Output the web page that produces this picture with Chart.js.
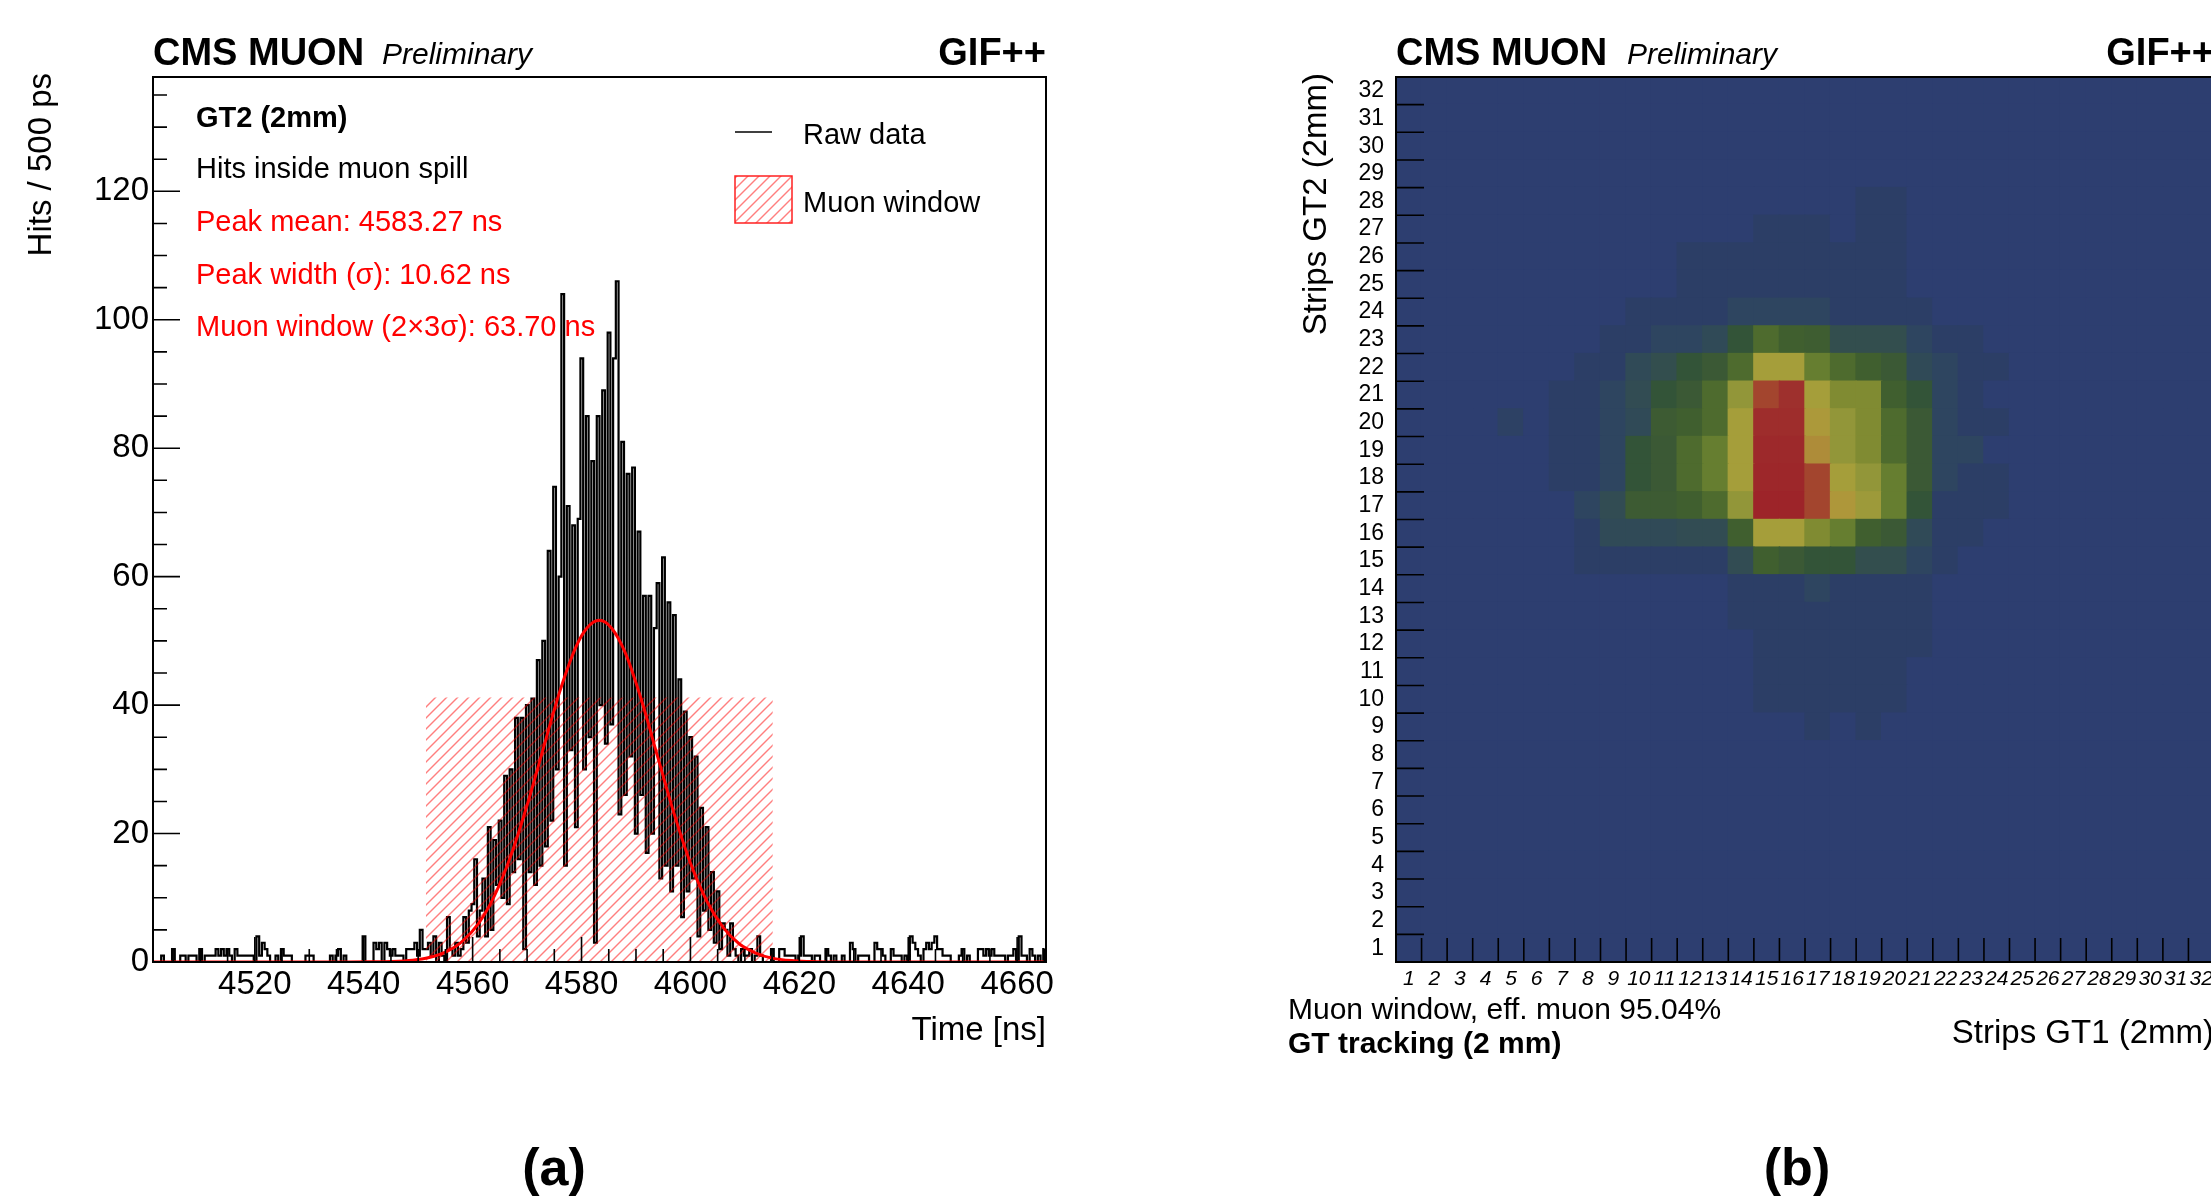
<!DOCTYPE html>
<html>
<head>
<meta charset="utf-8">
<script src="https://cdn.jsdelivr.net/npm/chart.js@4.4.1/dist/chart.umd.min.js"></script>
<style>
  html, body { margin: 0; padding: 0; background: #fff; overflow: hidden; }
  body { width: 2211px; height: 1197px; position: relative; }
  #wrapA { position: absolute; left: 0; top: 0; width: 1100px; height: 1197px; }
  #wrapB { position: absolute; left: 1105px; top: 0; width: 1125px; height: 1197px; }
</style>
</head>
<body>
<div id="wrapA"><canvas id="timeHist" width="1100" height="1197"></canvas></div>
<div id="wrapB"><canvas id="stripMap" width="1125" height="1197"></canvas></div>
<script>
const FONT = '"Liberation Sans", Arial, Helvetica, sans-serif';
Chart.defaults.color = '#000';
Chart.defaults.font.family = FONT;

// ---- (a) time histogram, 0.5 ns bins starting at 4501.3 ns
const binStart = 4501.3;
const binWidth = 0.5;
const hits = [
  0,0,0,1,0,0,0,2,0,0,  1,1,0,1,1,1,0,2,0,1,
  1,1,1,2,1,2,1,2,1,0,  2,1,1,1,1,1,1,0,4,1,
  3,2,1,0,0,1,0,2,1,1,  1,0,0,0,0,0,1,1,1,0,
  0,0,0,0,0,1,0,1,2,0,  1,0,0,0,0,0,0,4,0,0,
  0,3,2,3,0,3,2,1,2,1,  1,1,0,2,2,2,3,1,5,2,
  2,3,1,4,0,3,1,0,7,2,  1,3,1,2,7,3,8,9,16,4,
  8,13,4,21,5,19,12,22,10,29,  9,30,14,38,16,38,2,40,14,41,
  12,47,15,50,18,64,22,74,30,60,  104,15,71,33,68,21,69,94,30,85,
  35,78,3,85,40,89,34,98,37,94,  106,23,81,26,76,32,77,20,67,26,
  57,17,57,20,52,59,13,63,15,56,  11,54,15,44,7,39,11,35,13,32,
  4,24,8,21,5,14,3,11,2,6,  5,1,6,2,1,0,2,1,1,2,
  0,1,4,1,0,0,0,2,0,0,  2,2,1,1,1,1,0,1,4,1,
  1,1,0,1,1,0,0,2,1,0,  1,0,0,1,0,0,3,2,0,1,
  1,1,1,0,0,3,2,2,1,0,  0,2,1,1,1,0,1,0,4,3,
  2,1,0,2,3,2,3,4,2,2,  1,1,1,0,0,0,1,2,0,1,
  0,0,0,2,2,1,2,1,2,1,  1,1,1,0,1,1,2,0,4,1,
  1,0,2,1,0,1,0,2
];

// Gaussian fit curve
const fitTimes  = [4501.3, 4537, 4541, 4545, 4549, 4552, 4555, 4558, 4561, 4564, 4567, 4570, 4573, 4576, 4579, 4581, 4583.27, 4585.5, 4588, 4591, 4594, 4597, 4600, 4603, 4606, 4609, 4612, 4615, 4619, 4623, 4628, 4665.3];
const fitValues = [0, 0, 0.02, 0.08, 0.29, 0.70, 1.54, 3.14, 5.90, 10.3, 16.5, 24.4, 33.3, 42.1, 49.1, 52.0, 53.2, 52.0, 48.2, 40.8, 31.9, 23.1, 15.4, 9.5, 5.4, 2.8, 1.4, 0.6, 0.19, 0.05, 0, 0];

// muon window (mean +- 3 sigma) and its drawn height
const windowRange = [4551.41, 4615.13];
const windowTop = 41.2;

const fitInfo = ['GT2 (2mm)', 'Hits inside muon spill', 'Peak mean: 4583.27 ns', 'Peak width (\u03c3): 10.62 ns', 'Muon window (2\u00d73\u03c3): 63.70 ns'];

// ---- (b) strip correlation map, rows from strip 32 (top) down to strip 1
const stripLabels = ['1','2','3','4','5','6','7','8','9','10','11','12','13','14','15','16','17','18','19','20','21','22','23','24','25','26','27','28','29','30','31','32'];
const stripMap = [
  [0,0,0,0,0,0,0,0,0,0, 0,0,0,0,0,0,0,0,0,0, 0,0,0,0,0,0,0,0,0,0, 0,0],
  [0,0,0,0,0,0,0,0,0,0, 0,0,0,0,0,0,0,0,0,0, 0,0,0,0,0,0,0,0,0,0, 0,0],
  [0,0,0,0,0,0,0,0,0,0, 0,0,0,0,0,0,0,0,0,0, 0,0,0,0,0,0,0,0,0,0, 0,0],
  [0,0,0,0,0,0,0,0,0,0, 0,0,0,0,0,0,0,0,0,0, 0,0,0,0,0,0,0,0,0,0, 0,0],
  [0,0,0,0,0,0,0,0,0,0, 0,0,0,0,0,0,0,0,3,3, 0,0,0,0,0,0,0,0,0,0, 0,0],
  [0,0,0,0,0,0,0,0,0,0, 0,0,0,0,3,3,3,0,3,3, 0,0,0,0,0,0,0,0,0,0, 0,0],
  [0,0,0,0,0,0,0,0,0,0, 0,3,3,3,3,3,3,3,3,3, 0,0,0,0,0,0,0,0,0,0, 0,0],
  [0,0,0,0,0,0,0,0,0,0, 0,3,3,3,3,3,3,3,3,3, 0,0,0,0,0,0,0,0,0,0, 0,0],
  [0,0,0,0,0,0,0,0,0,3, 3,3,3,8,8,8,8,3,3,3, 3,0,0,0,0,0,0,0,0,0, 0,0],
  [0,0,0,0,0,0,0,0,3,3, 8,8,12,24,40,33,31,16,16,16, 8,3,3,0,0,0,0,0,0,0, 0,0],
  [0,0,0,0,0,0,0,3,3,12, 16,24,28,40,72,72,48,40,33,28, 12,8,3,3,0,0,0,0,0,0, 0,0],
  [0,0,0,0,0,0,3,3,8,14, 24,28,40,63,86,92,72,56,56,33, 24,8,3,0,0,0,0,0,0,0, 0,0],
  [0,0,0,0,5,0,3,3,8,12, 30,33,40,72,94,94,76,63,56,40, 28,8,3,3,0,0,0,0,0,0, 0,0],
  [0,0,0,0,0,0,3,3,8,24, 28,40,48,72,97,97,79,63,56,40, 28,8,8,0,0,0,0,0,0,0, 0,0],
  [0,0,0,0,0,0,3,3,8,24, 28,40,48,72,98,98,86,72,63,48, 28,8,3,3,0,0,0,0,0,0, 0,0],
  [0,0,0,0,0,0,0,8,14,30, 30,33,40,63,100,100,86,77,67,48, 24,3,3,3,0,0,0,0,0,0, 0,0],
  [0,0,0,0,0,0,0,3,12,12, 12,14,14,33,72,72,56,48,33,28, 12,3,3,0,0,0,0,0,0,0, 0,0],
  [0,0,0,0,0,0,0,3,3,3, 3,3,3,14,33,28,24,24,16,16, 8,3,0,0,0,0,0,0,0,0, 0,0],
  [0,0,0,0,0,0,0,0,0,0, 0,0,0,3,3,3,8,3,3,3, 3,0,0,0,0,0,0,0,0,0, 0,0],
  [0,0,0,0,0,0,0,0,0,0, 0,0,0,3,3,3,3,3,3,3, 3,0,0,0,0,0,0,0,0,0, 0,0],
  [0,0,0,0,0,0,0,0,0,0, 0,0,0,0,3,3,3,3,3,3, 3,0,0,0,0,0,0,0,0,0, 0,0],
  [0,0,0,0,0,0,0,0,0,0, 0,0,0,0,3,3,3,3,3,3, 0,0,0,0,0,0,0,0,0,0, 0,0],
  [0,0,0,0,0,0,0,0,0,0, 0,0,0,0,3,3,3,3,3,3, 0,0,0,0,0,0,0,0,0,0, 0,0],
  [0,0,0,0,0,0,0,0,0,0, 0,0,0,0,0,0,3,0,3,0, 0,0,0,0,0,0,0,0,0,0, 0,0],
  [0,0,0,0,0,0,0,0,0,0, 0,0,0,0,0,0,0,0,0,0, 0,0,0,0,0,0,0,0,0,0, 0,0],
  [0,0,0,0,0,0,0,0,0,0, 0,0,0,0,0,0,0,0,0,0, 0,0,0,0,0,0,0,0,0,0, 0,0],
  [0,0,0,0,0,0,0,0,0,0, 0,0,0,0,0,0,0,0,0,0, 0,0,0,0,0,0,0,0,0,0, 0,0],
  [0,0,0,0,0,0,0,0,0,0, 0,0,0,0,0,0,0,0,0,0, 0,0,0,0,0,0,0,0,0,0, 0,0],
  [0,0,0,0,0,0,0,0,0,0, 0,0,0,0,0,0,0,0,0,0, 0,0,0,0,0,0,0,0,0,0, 0,0],
  [0,0,0,0,0,0,0,0,0,0, 0,0,0,0,0,0,0,0,0,0, 0,0,0,0,0,0,0,0,0,0, 0,0],
  [0,0,0,0,0,0,0,0,0,0, 0,0,0,0,0,0,0,0,0,0, 0,0,0,0,0,0,0,0,0,0, 0,0],
  [0,0,0,0,0,0,0,0,0,0, 0,0,0,0,0,0,0,0,0,0, 0,0,0,0,0,0,0,0,0,0, 0,0]
];

// colour scale of the map (value -> colour)
const paletteStops  = [0, 3, 8, 12, 16, 24, 28, 33, 40, 48, 56, 63, 67, 72, 78, 86, 92, 100];
const paletteColors = ['#2d3e70','#2c3e66','#2e4560','#304a57','#334e4e','#335438','#3b5935','#405f2f','#4e6b2e','#667e30','#808b32','#929639','#9d9a3a','#a59e3a','#b0963a','#a3452e','#9e302d','#9d2429'];


function hexRgb(h){
	return [parseInt(h.slice(1,3),16), parseInt(h.slice(3,5),16), parseInt(h.slice(5,7),16)];
}

function colorFor(z){
	for (let i = 0; i < paletteStops.length - 1; i++) {
		if (z <= paletteStops[i+1]) {
			const f = (z - paletteStops[i]) / (paletteStops[i+1] - paletteStops[i]);
			const a = hexRgb(paletteColors[i]);
			const b = hexRgb(paletteColors[i+1]);
			return 'rgb(' + a.map((c, k) => Math.round(c + (b[k] - c) * f)).join(',') + ')';
		}
	}
	return paletteColors[paletteColors.length - 1];
}

function hatch(ctx){
	const tile = document.createElement('canvas');
	tile.width = 11;
	tile.height = 11;
	const t = tile.getContext('2d');
	t.strokeStyle = 'rgba(255,0,0,0.5)';
	t.lineWidth = 1.4;
	[-11, 0, 11].forEach(o => {
		t.beginPath();
		t.moveTo(o - 1, 12);
		t.lineTo(o + 12, -1);
		t.stroke();
	});
	return ctx.createPattern(tile, 'repeat');
}

function text(ctx, str, x, y, font, color, align){
	ctx.font = font;
	ctx.fillStyle = color || '#000';
	ctx.textAlign = align || 'left';
	ctx.textBaseline = 'alphabetic';
	ctx.fillText(str, x, y);
}

function vtext(ctx, str, x, y, font){
	ctx.save();
	ctx.translate(x, y);
	ctx.rotate(-Math.PI / 2);
	text(ctx, str, 0, 0, font, '#000', 'right');
	ctx.restore();
}

// ---- (a)
const ctxA = document.getElementById('timeHist').getContext('2d');
const hatchFill = hatch(ctxA);

const histDecor = {
	id: 'histDecor',
	afterDraw(chart){
		const {ctx, chartArea: a, scales: {x, y}} = chart;
		ctx.save();
		ctx.strokeStyle = '#000';
		ctx.lineWidth = 1.6;
		ctx.beginPath();
		for (let v = Math.ceil(x.min / 5) * 5; v <= x.max; v += 5) {
			const px = x.getPixelForValue(v);
			ctx.moveTo(px, a.bottom);
			ctx.lineTo(px, a.bottom - (v % 20 === 0 ? 25 : 13));
		}
		for (let v = 0; v <= y.max; v += 5) {
			const py = y.getPixelForValue(v);
			ctx.moveTo(a.left, py);
			ctx.lineTo(a.left + (v % 20 === 0 ? 27 : 14), py);
		}
		ctx.stroke();
		ctx.lineWidth = 2;
		ctx.strokeRect(a.left, a.top, a.right - a.left, a.bottom - a.top);

		// titles
		text(ctx, 'CMS MUON', a.left, 65, 'bold 38px ' + FONT);
		text(ctx, 'Preliminary', a.left + 229, 64, 'italic 30px ' + FONT);
		text(ctx, 'GIF++', a.right, 65, 'bold 38px ' + FONT, '#000', 'right');
		vtext(ctx, 'Hits / 500 ps', 51, 73, '33px ' + FONT);
		text(ctx, 'Time [ns]', a.right, 1040, '33px ' + FONT, '#000', 'right');

		// fit summary
		text(ctx, fitInfo[0], a.left + 43, 127, 'bold 29px ' + FONT);
		text(ctx, fitInfo[1], a.left + 43, 178, '29px ' + FONT);
		text(ctx, fitInfo[2], a.left + 43, 231, '29px ' + FONT, '#ff0000');
		text(ctx, fitInfo[3], a.left + 43, 284, '29px ' + FONT, '#ff0000');
		text(ctx, fitInfo[4], a.left + 43, 336, '29px ' + FONT, '#ff0000');

		// legend
		ctx.strokeStyle = '#000';
		ctx.lineWidth = 1.5;
		ctx.beginPath();
		ctx.moveTo(a.left + 582, 132);
		ctx.lineTo(a.left + 619, 132);
		ctx.stroke();
		text(ctx, 'Raw data', a.left + 650, 144, '29px ' + FONT);
		ctx.fillStyle = hatchFill;
		ctx.fillRect(a.left + 582, 176, 57, 47);
		ctx.strokeStyle = '#ff2020';
		ctx.lineWidth = 1.5;
		ctx.strokeRect(a.left + 582, 176, 57, 47);
		text(ctx, 'Muon window', a.left + 650, 212, '29px ' + FONT);

		text(ctx, '(a)', 554, 1185, 'bold 52px ' + FONT, '#000', 'center');
		ctx.restore();
	}
};

new Chart(ctxA, {
	type: 'line',
	data: {
		datasets: [
			{
				label: 'Raw data',
				data: hits.map((v, i) => ({x: binStart + binWidth * (i + 0.5), y: v})),
				stepped: 'middle',
				borderColor: '#000',
				borderWidth: 2.2,
				pointRadius: 0,
				order: 3,
			},
			{
				label: 'Muon window',
				data: windowRange.map(t => ({x: t, y: windowTop})),
				borderWidth: 0,
				borderColor: 'rgba(0,0,0,0)',
				backgroundColor: hatchFill,
				fill: 'origin',
				pointRadius: 0,
				order: 2,
			},
			{
				label: 'Fit',
				data: fitTimes.map((t, i) => ({x: t, y: fitValues[i]})),
				borderColor: '#ff0000',
				borderWidth: 3,
				cubicInterpolationMode: 'monotone',
				pointRadius: 0,
				order: 1,
			}
		]
	},
	options: {
		responsive: false,
		animation: false,
		layout: { padding: { left: 0, top: 77, right: 54, bottom: 175 } },
		plugins: { legend: { display: false }, tooltip: { enabled: false } },
		scales: {
			x: {
				type: 'linear',
				min: 4501.3,
				max: 4665.3,
				grid: { display: false, drawTicks: false },
				border: { display: false },
				ticks: {
					stepSize: 20,
					autoSkip: false,
					includeBounds: false,
					maxRotation: 0,
					padding: 3,
					font: { size: 33 },
					callback: v => v % 20 === 0 ? String(v) : '',
				},
				afterFit: s => { s.height = 60; },
			},
			y: {
				min: 0,
				max: 137.8,
				grid: { display: false, drawTicks: false },
				border: { display: false },
				ticks: {
					stepSize: 20,
					includeBounds: false,
					padding: 4,
					font: { size: 33 },
					callback: v => v % 20 === 0 ? String(v) : '',
				},
				afterFit: s => { s.width = 153; },
			}
		}
	},
	plugins: [histDecor]
});

// ---- (b)
const mapDecor = {
	id: 'mapDecor',
	afterDraw(chart){
		const {ctx, chartArea: a, scales: {x, y}} = chart;
		ctx.save();
		ctx.strokeStyle = '#000';
		ctx.lineWidth = 1.6;
		ctx.beginPath();
		for (let i = 1; i < stripLabels.length; i++) {
			const px = (x.getPixelForValue(i - 1) + x.getPixelForValue(i)) / 2;
			ctx.moveTo(px, a.bottom);
			ctx.lineTo(px, a.bottom - 24);
			const py = y.getPixelForValue(i);
			ctx.moveTo(a.left, py);
			ctx.lineTo(a.left + 28, py);
		}
		ctx.stroke();
		ctx.lineWidth = 2;
		ctx.strokeRect(a.left, a.top, a.right - a.left, a.bottom - a.top);

		text(ctx, 'CMS MUON', a.left, 65, 'bold 38px ' + FONT);
		text(ctx, 'Preliminary', a.left + 231, 64, 'italic 30px ' + FONT);
		text(ctx, 'GIF++', a.right, 65, 'bold 38px ' + FONT, '#000', 'right');
		vtext(ctx, 'Strips GT2 (2mm)', 221, 73, '33px ' + FONT);
		text(ctx, 'Strips GT1 (2mm)', a.right, 1043, '33px ' + FONT, '#000', 'right');
		text(ctx, 'Muon window, eff. muon 95.04%', 183, 1019, '30px ' + FONT);
		text(ctx, 'GT tracking (2 mm)', 183, 1053, 'bold 30px ' + FONT);
		text(ctx, '(b)', 692, 1185, 'bold 52px ' + FONT, '#000', 'center');
		ctx.restore();
	}
};

new Chart(document.getElementById('stripMap'), {
	type: 'bar',
	data: {
		labels: stripLabels,
		datasets: stripLabels.map((lab, i) => ({
			label: 'GT2 strip ' + lab,
			data: stripLabels.map(() => 1),
			backgroundColor: stripMap[stripLabels.length - 1 - i].map(colorFor),
			borderWidth: 0,
			barPercentage: 1,
			categoryPercentage: 1,
			inflateAmount: 0.7,
			stack: 'strips',
		}))
	},
	options: {
		responsive: false,
		animation: false,
		layout: { padding: { left: 0, top: 77, right: 16, bottom: 185 } },
		plugins: { legend: { display: false }, tooltip: { enabled: false } },
		scales: {
			x: {
				stacked: true,
				grid: { display: false, drawTicks: false },
				border: { display: false },
				ticks: {
					autoSkip: false,
					maxRotation: 0,
					padding: 5,
					font: { size: 21, style: 'italic' },
				},
				afterFit: s => { s.height = 50; },
			},
			y: {
				stacked: true,
				min: 0,
				max: 32,
				grid: { display: false, drawTicks: false },
				border: { display: false },
				ticks: {
					stepSize: 1,
					autoSkip: false,
					labelOffset: -13.8,
					padding: 12,
					font: { size: 23 },
					callback: v => v < 32 ? String(v + 1) : '',
				},
				afterFit: s => { s.width = 291; },
			}
		}
	},
	plugins: [mapDecor]
});
</script>
</body>
</html>
